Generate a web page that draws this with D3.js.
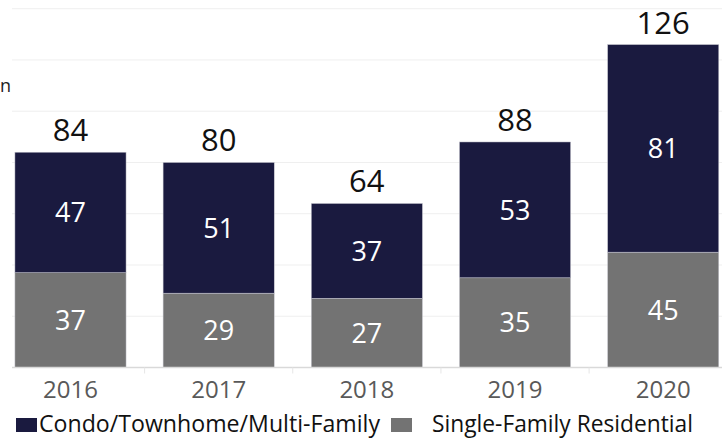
<!DOCTYPE html>
<html>
<head>
<meta charset="utf-8">
<script src="https://cdn.jsdelivr.net/npm/d3@7"></script>
<style>
  body { margin: 0; background: #fff; }
  svg { display: block; font-family: "Open Sans", "Noto Sans", sans-serif; }
</style>
</head>
<body>
<div id="chart"></div>
<script>
// data
var years = ["2016", "2017", "2018", "2019", "2020"];
var condo = [47, 51, 37, 53, 81];
var single = [37, 29, 27, 35, 45];
var seriesNames = ["Condo/Townhome/Multi-Family", "Single-Family Residential"];
var yTicks = [0, 20, 40, 60, 80, 100, 120, 140];

var width = 725, height = 440;
var colors = { condo: "#1a1a3f", single: "#737373" };

var svg = d3.select("#chart").append("svg")
  .attr("width", width)
  .attr("height", height);

var rows = years.map(function (y, i) {
  return { year: y, single: single[i], condo: condo[i], total: single[i] + condo[i] };
});

var xScale = d3.scaleBand()
  .domain(years)
  .range([-3.6, 737.3])
  .paddingInner(0.25)
  .paddingOuter(0.125);

var yScale = d3.scaleLinear()
  .domain([0, 140])
  .range([367.5, 8.7]);

var plotLeft = 12, plotRight = 722;

// gridlines
svg.append("g")
  .selectAll("line")
  .data(yTicks.slice(1))
  .enter().append("line")
  .attr("x1", plotLeft)
  .attr("x2", plotRight)
  .attr("y1", function (d) { return yScale(d); })
  .attr("y2", function (d) { return yScale(d); })
  .style("stroke", "#efefef")
  .style("stroke-width", 1);

// stacked bars
var stack = d3.stack().keys(["single", "condo"]);
var layers = stack(rows);

svg.append("g")
  .selectAll("g")
  .data(layers)
  .enter().append("g")
  .attr("fill", function (d) { return colors[d.key]; })
  .selectAll("rect")
  .data(function (d) { return d; })
  .enter().append("rect")
  .attr("x", function (d) { return xScale(d.data.year); })
  .attr("width", xScale.bandwidth())
  .attr("y", function (d) { return yScale(d[1]); })
  .attr("height", function (d) { return yScale(d[0]) - yScale(d[1]); })
  .style("stroke", "#c9c9d2")
  .style("stroke-width", 0.5);

// segment labels
svg.append("g")
  .selectAll("g")
  .data(layers)
  .enter().append("g")
  .selectAll("text")
  .data(function (d) { return d.map(function (v) { return { v: v, key: d.key }; }); })
  .enter().append("text")
  .attr("x", function (d) { return xScale(d.v.data.year) + xScale.bandwidth() / 2; })
  .attr("y", function (d) { return (yScale(d.v[0]) + yScale(d.v[1])) / 2; })
  .attr("dy", "0.36em")
  .style("text-anchor", "middle")
  .style("font-size", "27px")
  .style("fill", "#ffffff")
  .text(function (d) { return d.v.data[d.key]; });

// totals
svg.append("g")
  .selectAll("text")
  .data(rows)
  .enter().append("text")
  .attr("x", function (d) { return xScale(d.year) + xScale.bandwidth() / 2; })
  .attr("y", function (d) { return yScale(d.total) - 11; })
  .style("text-anchor", "middle")
  .style("font-size", "31px")
  .style("fill", "#111111")
  .text(function (d) { return d.total; });

// x axis line and separators
svg.append("line")
  .attr("x1", plotLeft).attr("x2", plotRight)
  .attr("y1", yScale(0)).attr("y2", yScale(0))
  .style("stroke", "#d9d9d9")
  .style("stroke-width", 1.5);

svg.append("g")
  .selectAll("line")
  .data(years.slice(1))
  .enter().append("line")
  .attr("x1", function (d) { return xScale(d) - xScale.step() * xScale.paddingInner() / 2; })
  .attr("x2", function (d) { return xScale(d) - xScale.step() * xScale.paddingInner() / 2; })
  .attr("y1", yScale(0))
  .attr("y2", yScale(0) + 6)
  .style("stroke", "#e6e6e6")
  .style("stroke-width", 1);

svg.append("g")
  .selectAll("text")
  .data(years)
  .enter().append("text")
  .attr("x", function (d) { return xScale(d) + xScale.bandwidth() / 2; })
  .attr("y", 398)
  .style("text-anchor", "middle")
  .style("font-size", "24px")
  .style("fill", "#595959")
  .text(function (d) { return d; });

// title fragment at left edge (kept fully visible)
svg.append("text")
  .attr("x", 0)
  .attr("y", 92)
  .style("text-anchor", "start")
  .style("font-size", "18px")
  .style("fill", "#222")
  .text("n");

// legend
var legend = [
  { name: seriesNames[0], color: colors.condo, sx: 16, tx: 39, len: 341 },
  { name: seriesNames[1], color: colors.single, sx: 391, tx: 432, len: 261 }
];

var lg = svg.append("g").selectAll("g")
  .data(legend)
  .enter().append("g");

lg.append("rect")
  .attr("x", function (d) { return d.sx; })
  .attr("y", 418)
  .attr("width", 21)
  .attr("height", 14)
  .attr("fill", function (d) { return d.color; });

lg.append("text")
  .attr("x", function (d) { return d.tx; })
  .attr("y", 432)
  .attr("textLength", function (d) { return d.len; })
  .attr("lengthAdjust", "spacingAndGlyphs")
  .style("font-size", "23px")
  .style("fill", "#111")
  .text(function (d) { return d.name; });
</script>
</body>
</html>
